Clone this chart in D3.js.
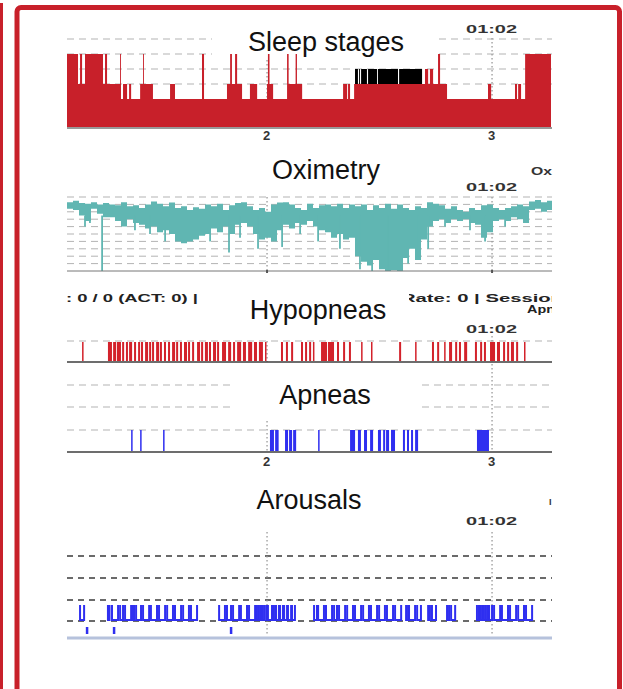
<!DOCTYPE html>
<html>
<head>
<meta charset="utf-8">
<script src="https://cdn.jsdelivr.net/npm/d3@7"></script>
<style>
  body { margin: 0; background: #fff; }
  text { font-family: "Liberation Sans", Arial, sans-serif; }
</style>
</head>
<body>
<div id="chart"></div>
<script>
// ---- data (time in hours of the recording) ----
const timeDomain = [1.111, 3.262];
const hourTicks = [2, 3];
const markerLabel = "01:02";

// hypnogram: stage changes
const hypnoTimes = [1.111,1.160,1.169,1.178,1.191,1.271,1.280,1.289,1.347,1.351,1.360,1.378,1.387,1.396,1.436,1.449,1.453,1.493,1.569,1.591,
  1.711,1.720,1.822,1.836,1.844,1.858,1.867,1.889,1.924,1.956,2.000,2.004,2.011,2.027,2.089,2.096,2.127,2.133,2.156,2.338,
  2.356,2.360,2.369,2.387,2.391,2.404,2.409,2.413,2.418,2.444,2.449,2.489,2.493,2.582,2.587,2.689,2.702,2.716,2.724,2.738,
  2.760,2.769,2.800,2.982,2.996,3.102,3.111,3.116,3.129,3.147];
const hypnoStages = ["W","N1","W","N1","W","N1","W","N1","W","N2","N1","N2","N1","N2","N1","W","N1","N2","N1","N2",
  "W","N2","N1","W","N1","W","N1","N2","N1","N2","N1","W","N1","N2","W","N1","W","N1","N2","N1",
  "N2","N1","N2","N1","REM","N1","REM","N1","REM","N1","REM","N1","REM","N1","REM","N1","MT","N1","MT","N1",
  "W","N1","N2","N1","N2","N1","N2","N1","N2","W"];
const hypnoEnd = 3.262;

// oximetry: SpO2 envelope per 1.6 min bin
const oxStart = 1.111;
const oxStepMin = 1.6;
const oxHigh = [98.6,99.0,98.4,98.2,98.6,98.0,98.4,98.0,97.8,98.6,97.5,97.8,97.0,98.0,98.8,98.2,97.5,98.5,97.0,97.5,
  96.5,97.2,96.8,98.0,97.5,98.2,96.5,97.8,98.4,98.6,97.5,96.5,97.0,96.0,98.0,98.5,98.6,98.0,97.0,96.5,
  98.2,97.0,97.8,98.0,97.5,98.2,97.0,98.0,97.5,98.0,96.5,97.8,97.0,98.2,96.8,98.0,97.0,96.5,97.5,97.0,
  98.6,98.2,97.8,96.8,97.5,96.5,96.0,97.0,96.5,97.8,98.0,97.0,96.5,97.0,97.5,98.0,97.5,98.8,99.2,98.6,99.0];
const oxLow = [96.8,96.5,95.0,93.5,96.8,95.5,94.5,94.5,93.5,92.0,94.0,93.0,92.5,91.5,92.0,90.5,91.0,90.0,88.0,87.5,
  88.0,88.5,89.5,90.0,91.5,90.5,92.0,90.0,92.5,93.0,92.0,90.0,88.5,89.0,88.0,91.0,92.5,91.5,93.0,92.5,
  93.5,92.0,91.0,90.5,89.0,90.0,88.5,89.0,84.0,82.5,81.5,83.0,80.5,80.0,80.2,80.0,83.5,86.0,83.0,88.5,
  92.0,93.5,94.0,93.0,94.0,93.5,94.0,93.0,92.5,89.0,90.5,93.5,94.0,93.5,94.5,94.0,93.0,96.5,96.8,96.0,96.5];
const oxDipTimes = [1.191,1.213,1.267,1.413,1.480,1.547,1.747,1.831,1.880,1.960,2.067,2.147,2.227,2.324,2.413,2.467,
  2.538,2.627,2.671,2.716,2.791,2.902,2.969,3.058];
const oxDipValues = [92.0,93.0,80.0,91.0,90.0,88.0,88.0,85.0,89.0,86.0,86.5,90.0,88.0,86.0,80.5,80.0,
  80.0,82.0,84.0,86.0,92.0,91.0,88.0,92.0];

// hypopneas: start (h), duration (s)
const hypopneaStart = [1.178,1.293,1.316,1.333,1.356,1.373,1.387,1.409,1.427,1.440,1.458,1.476,1.489,1.507,1.524,1.542,1.560,1.578,1.596,1.613,
  1.631,1.649,1.667,1.689,1.707,1.724,1.742,1.760,1.778,1.800,1.827,1.849,1.867,1.893,1.916,1.942,1.964,1.991,2.062,2.084,
  2.107,2.151,2.169,2.187,2.204,2.240,2.271,2.311,2.338,2.364,2.418,2.462,2.587,2.658,2.733,2.756,2.787,2.809,2.836,2.853,
  2.876,2.924,2.947,2.964,2.991,3.022,3.049,3.067,3.084,3.107,3.142];
const hypopneaDur = [24,64,48,64,32,32,48,32,32,32,48,32,32,48,32,32,32,48,32,32,
  48,32,32,48,32,48,32,48,32,64,48,32,64,48,64,48,64,24,32,32,
  32,32,32,32,24,96,96,32,32,32,24,24,32,24,32,32,24,48,32,32,
  48,32,32,32,80,48,32,32,48,32,24];

// apneas: start (h), duration (s)
const apneaStart = [1.396,1.436,1.538,2.013,2.036,2.080,2.098,2.116,2.227,2.369,2.404,2.431,2.458,2.493,2.516,2.529,2.551,2.604,2.622,2.640,2.658,2.933];
const apneaDur = [24,24,24,64,56,48,48,48,24,80,48,48,48,48,32,48,64,32,32,32,48,192];

// arousals: start / end (h)
const arousalStart = [1.169,1.293,1.311,1.347,1.369,1.404,1.418,1.449,1.484,1.520,1.556,1.591,1.627,1.662,
  1.787,1.822,1.849,1.884,1.920,1.951,1.964,1.978,1.996,2.004,2.027,2.040,2.058,2.076,2.093,2.111,
  2.209,2.227,2.262,2.298,2.320,2.356,2.391,2.427,2.462,2.498,2.533,2.569,2.618,2.631,2.667,2.716,2.733,2.800,2.818,
  2.933,2.947,2.960,2.973,2.987,3.009,3.044,3.080,3.116,3.151];
const arousalEnd = [1.187,1.300,1.338,1.360,1.396,1.409,1.440,1.476,1.511,1.547,1.582,1.618,1.653,1.689,
  1.813,1.840,1.876,1.911,1.947,1.960,1.973,1.987,2.000,2.022,2.036,2.053,2.071,2.089,2.107,2.124,
  2.222,2.253,2.289,2.311,2.347,2.382,2.418,2.453,2.489,2.524,2.560,2.596,2.627,2.658,2.684,2.724,2.751,2.809,2.836,
  2.942,2.956,2.969,2.982,3.000,3.036,3.071,3.107,3.142,3.178];
const arousalMarks = [1.200, 1.320, 1.840];

// ---- drawing ----
const W = 623, H = 689;
const red = "#c8202a", teal = "#60b6b2", blue = "#2f2ff0";
const grid = "#b3b3b3";
const xl = 67, xr = 552;

const svg = d3.select("#chart").append("svg").attr("width", W).attr("height", H);

const x = d3.scaleLinear().domain(timeDomain).range([67, 551]);

// frame
svg.append("rect").attr("x", 0).attr("y", 3).attr("width", 3).attr("height", H).attr("fill", red);
svg.append("rect").attr("x", 17).attr("y", 7.5).attr("width", 602.5).attr("height", H)
  .attr("rx", 4).attr("fill", "none").attr("stroke", red).attr("stroke-width", 5);

const defs = svg.append("defs");
defs.append("clipPath").attr("id", "plotclip").append("rect")
  .attr("x", xl).attr("y", 0).attr("width", xr - xl).attr("height", H);
defs.append("clipPath").attr("id", "hdrclip").append("rect")
  .attr("x", 409).attr("y", 280).attr("width", xr - 409).attr("height", 40);
defs.append("clipPath").attr("id", "arclip").append("rect")
  .attr("x", xl).attr("y", 605).attr("width", xr - xl).attr("height", 20);

function hDash(g, y, x0, x1, color, dash, w) {
  g.append("line").attr("x1", x0).attr("x2", x1).attr("y1", y).attr("y2", y)
    .attr("stroke", color || grid).attr("stroke-width", w || 1)
    .attr("stroke-dasharray", dash || "7,5");
}
function vDot(g, xp, y0, y1) {
  g.append("line").attr("x1", xp).attr("x2", xp).attr("y1", y0).attr("y2", y1)
    .attr("stroke", "#9a9a9a").attr("stroke-width", 1.3).attr("stroke-dasharray", "1.5,2.5");
}
function title(g, txt, cx, base) {
  g.append("text").attr("x", cx).attr("y", base).attr("text-anchor", "middle")
    .attr("font-size", 27).attr("fill", "#111").text(txt);
}
function marker(g, base) {
  g.append("text").attr("x", x(3) - 26).attr("y", base)
    .attr("font-size", 11).attr("font-weight", "bold").attr("fill", "#333")
    .attr("textLength", 51).attr("lengthAdjust", "spacingAndGlyphs").text(markerLabel);
}
function hourAxis(g, ty) {
  const ax = g.append("g").attr("transform", `translate(0,${ty})`)
    .call(d3.axisBottom(x).tickValues(hourTicks).tickSize(0).tickPadding(0).tickFormat(d3.format("d")));
  ax.select(".domain").remove();
  ax.selectAll("text").attr("font-size", 13).attr("font-weight", "bold").attr("fill", "#333")
    .attr("font-family", "Liberation Sans, Arial, sans-serif").attr("dx", -1);
}

// ---- Sleep stages ----
const levelOf = s => ({ W: 0, REM: 1, MT: 1, N1: 2, N2: 3 })[s];
const ys = d3.scaleLinear().domain([0, 3]).range([54, 99]);
const gS = svg.append("g");
[-1, 0, 1, 2].forEach(l => hDash(gS, ys(l), xl, xr));
vDot(gS, x(2), 40, 127);
vDot(gS, x(3), 38, 127);
gS.append("rect").attr("x", 212).attr("y", 27).attr("width", 223).attr("height", 31).attr("fill", "#fff");

const hyp = hypnoTimes.map((t, i) => ({ t, s: hypnoStages[i] }));
hyp.push({ t: hypnoEnd, s: hypnoStages[hypnoStages.length - 1] });
const gSp = gS.append("g").attr("clip-path", "url(#plotclip)");
gSp.append("path").datum(hyp)
  .attr("d", d3.area().curve(d3.curveStepAfter)
    .x(d => x(d.t)).y0(127).y1(d => ys(d.s === "REM" ? 2 : levelOf(d.s))))
  .attr("fill", red);
gSp.selectAll("rect.rem").data(hyp.slice(0, -1).map((d, i) => ({ a: d.t, b: hyp[i + 1].t, s: d.s }))
    .filter(d => d.s === "REM"))
  .enter().append("rect").attr("class", "rem")
  .attr("x", d => x(d.a)).attr("width", d => x(d.b) - x(d.a))
  .attr("y", ys(1)).attr("height", ys(2) - ys(1)).attr("fill", "#000");
gS.append("line").attr("x1", xl).attr("x2", xr).attr("y1", 128).attr("y2", 128)
  .attr("stroke", "#999").attr("stroke-width", 2);
title(gS, "Sleep stages", 326, 51);
marker(gS, 33);
hourAxis(gS, 131);

// ---- Oximetry ----
const yo = d3.scaleLinear().domain([80, 100]).range([271, 197]);
const gO = svg.append("g");
d3.range(82, 101, 2).forEach(v => hDash(gO, yo(v), xl, xr));
vDot(gO, x(2), 197, 271);
vDot(gO, x(3), 197, 271);
const ox = oxHigh.map((h, i) => ({ t: oxStart + i * oxStepMin / 60, hi: h, lo: oxLow[i] }));
ox.push({ t: oxStart + ox.length * oxStepMin / 60, hi: oxHigh[oxHigh.length - 1], lo: oxLow[oxLow.length - 1] });
const gOp = gO.append("g").attr("clip-path", "url(#plotclip)");
gOp.append("path").datum(ox)
  .attr("d", d3.area().curve(d3.curveStepAfter).x(d => x(d.t)).y0(d => yo(d.lo)).y1(d => yo(d.hi)))
  .attr("fill", teal);
gOp.selectAll("line.dip").data(oxDipTimes).enter().append("line").attr("class", "dip")
  .attr("x1", d => x(d)).attr("x2", d => x(d)).attr("y1", yo(95))
  .attr("y2", (d, i) => yo(oxDipValues[i])).attr("stroke", teal).attr("stroke-width", 1.8);
gO.append("line").attr("x1", xl).attr("x2", xr).attr("y1", 271).attr("y2", 271)
  .attr("stroke", "#777").attr("stroke-width", 1);
hourTicks.forEach(t => gO.append("line").attr("x1", x(t)).attr("x2", x(t)).attr("y1", 270).attr("y2", 273)
  .attr("stroke", "#555").attr("stroke-width", 2));
title(gO, "Oximetry", 326, 179);
marker(gO, 191);
gO.append("text").attr("x", 531).attr("y", 175).attr("font-size", 10).attr("font-weight", "bold")
  .attr("fill", "#333").attr("textLength", 21).attr("lengthAdjust", "spacingAndGlyphs").text("Ox");

// ---- Hypopneas ----
const gH = svg.append("g");
gH.append("text").attr("x", 66).attr("y", 302).attr("font-size", 11).attr("font-weight", "bold")
  .attr("fill", "#222").attr("textLength", 132).attr("lengthAdjust", "spacingAndGlyphs").text(": 0 / 0 (ACT: 0) |");
const hdr = gH.append("g").attr("clip-path", "url(#hdrclip)");
hdr.append("text").attr("x", 401).attr("y", 302).attr("font-size", 11).attr("font-weight", "bold")
  .attr("fill", "#222").attr("textLength", 162).attr("lengthAdjust", "spacingAndGlyphs").text("Rate: 0 | Session");
hdr.append("text").attr("x", 527).attr("y", 313).attr("font-size", 11).attr("font-weight", "bold")
  .attr("fill", "#222").attr("textLength", 44).attr("lengthAdjust", "spacingAndGlyphs").text("Apnea");
hDash(gH, 341, xl, xr);
vDot(gH, x(2), 341, 362);
vDot(gH, x(3), 336, 452);
gH.append("g").attr("clip-path", "url(#plotclip)").selectAll("rect")
  .data(hypopneaStart.map((t, i) => ({ t, d: hypopneaDur[i] })))
  .enter().append("rect")
  .attr("x", d => x(d.t)).attr("width", d => Math.max(1.5, x(d.t + d.d / 3600) - x(d.t)))
  .attr("y", 342).attr("height", 19).attr("fill", "#d3222b");
gH.append("line").attr("x1", xl).attr("x2", xr).attr("y1", 362).attr("y2", 362)
  .attr("stroke", "#3c3c3c").attr("stroke-width", 1.6);
title(gH, "Hypopneas", 318, 319);
marker(gH, 333);

// ---- Apneas ----
const gA = svg.append("g");
[385, 407].forEach(y => { hDash(gA, y, xl, 234); hDash(gA, y, 422, xr); });
hDash(gA, 430, xl, xr);
vDot(gA, x(2), 421, 452);
gA.append("g").attr("clip-path", "url(#plotclip)").selectAll("rect")
  .data(apneaStart.map((t, i) => ({ t, d: apneaDur[i] })))
  .enter().append("rect")
  .attr("x", d => x(d.t)).attr("width", d => Math.max(1.5, x(d.t + d.d / 3600) - x(d.t)))
  .attr("y", 430).attr("height", 21).attr("fill", blue);
gA.append("line").attr("x1", xl).attr("x2", xr).attr("y1", 452).attr("y2", 452)
  .attr("stroke", "#3c3c3c").attr("stroke-width", 1.6);
title(gA, "Apneas", 325, 404);
hourAxis(gA, 457);

// ---- Arousals ----
const gR = svg.append("g");
title(gR, "Arousals", 309, 509);
marker(gR, 525);
gR.append("text").attr("x", 549).attr("y", 505).attr("font-size", 9).attr("font-weight", "bold")
  .attr("fill", "#333").text("I");
[556, 578, 600, 621].forEach(y => hDash(gR, y, xl, xr, "#3a3a3a", "6,5", 1.3));
vDot(gR, x(2), 532, 634);
vDot(gR, x(3), 532, 634);
gR.append("g").attr("clip-path", "url(#arclip)").selectAll("path")
  .data(arousalStart.map((t, i) => ({ a: t, b: arousalEnd[i] })))
  .enter().append("path")
  .attr("d", d => `M${x(d.a)},600 L${x(d.a)},620 L${x(d.b)},620 L${x(d.b)},600`)
  .attr("fill", "none").attr("stroke", blue).attr("stroke-width", 2);
gR.selectAll("rect.mark").data(arousalMarks).enter().append("rect").attr("class", "mark")
  .attr("x", d => x(d) - 1.2).attr("width", 2.5).attr("y", 627).attr("height", 7).attr("fill", blue);
gR.append("line").attr("x1", xl).attr("x2", xr).attr("y1", 638).attr("y2", 638)
  .attr("stroke", "#b6c2dc").attr("stroke-width", 3);
</script>
</body>
</html>
